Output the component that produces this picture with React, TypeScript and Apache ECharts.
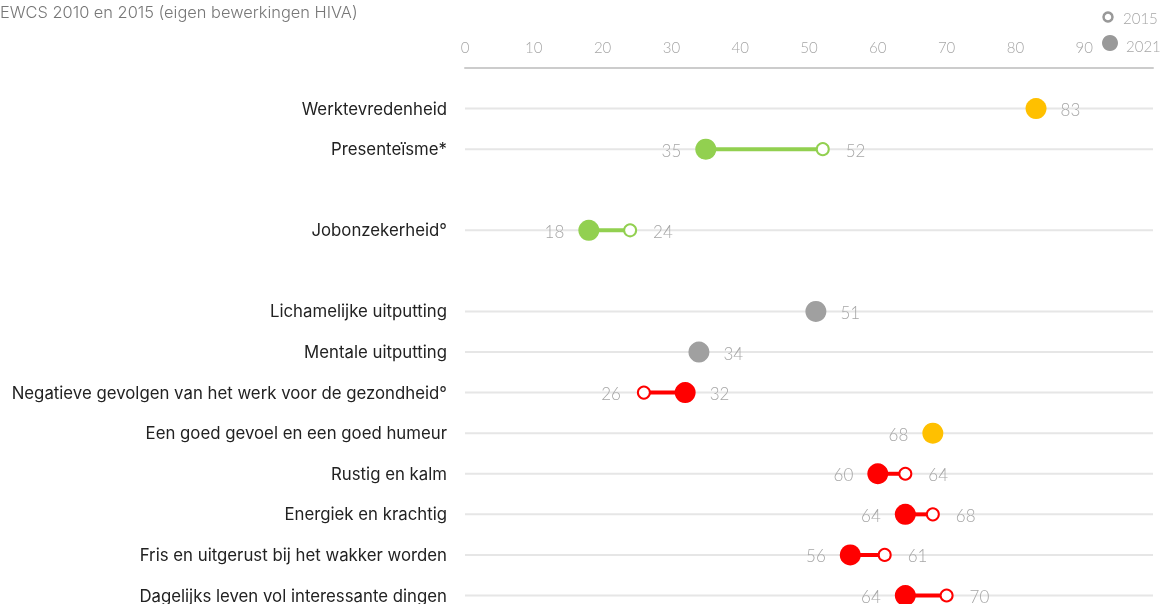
import React, { useEffect, useRef } from "react";
import * as echarts from "echarts";

const categories = [
  " ",
  "Werktevredenheid",
  "Presenteïsme*",
  "",
  "Jobonzekerheid°",
  "  ",
  "Lichamelijke uitputting",
  "Mentale uitputting",
  "Negatieve gevolgen van het werk voor de gezondheid°",
  "Een goed gevoel en een goed humeur",
  "Rustig en kalm",
  "Energiek en krachtig",
  "Fris en uitgerust bij het wakker worden",
  "Dagelijks leven vol interessante dingen",
];
const values2021: (number | null)[] = [null, 83, 35, null, 18, null, 51, 34, 32, 68, 60, 64, 56, 64];
const values2015: (number | null)[] = [null, null, 52, null, 24, null, null, null, 26, null, 64, 68, 61, 70];
const xTicks = [0, 10, 20, 30, 40, 50, 60, 70, 80, 90];

const YELLOW = "#FFC000";
const GREEN = "#92D050";
const GRAY = "#A0A0A0";
const RED = "#FF0000";
const rowColors = [null, YELLOW, GREEN, null, GREEN, null, GRAY, GRAY, RED, YELLOW, RED, RED, RED, RED];
const singleLabelLeft = [false, false, false, false, false, false, false, false, false, true, false, false, false, false];

const LABEL_FONT = "Lato, 'Open Sans', sans-serif";
const CAT_FONT = "Inter, Roboto, 'Noto Sans', sans-serif";

export default function App() {
  const ref = useRef<HTMLDivElement>(null);
  useEffect(() => {
    if (!ref.current) return;
    const chart = echarts.init(ref.current, undefined, { renderer: "svg" });

    const rows = categories.map((c, i) => i).filter((i) => categories[i].trim() !== "");

    const gridData = rows.map((i) => [0, i]);
    const segData = rows
      .filter((i) => values2021[i] != null && values2015[i] != null)
      .map((i) => [values2021[i], values2015[i], i]);

    const data2021 = rows
      .filter((i) => values2021[i] != null)
      .map((i) => {
        const v = values2021[i] as number;
        const o = values2015[i];
        let left: boolean;
        if (o != null) left = o > v;
        else left = singleLabelLeft[i];
        return {
          value: [v, i],
          itemStyle: { color: rowColors[i] },
          label: { position: left ? "left" : "right" },
        };
      });
    const data2015 = rows
      .filter((i) => values2015[i] != null)
      .map((i) => {
        const v = values2015[i] as number;
        const n = values2021[i] as number;
        return {
          value: [v, i],
          itemStyle: { color: "#ffffff", borderColor: rowColors[i] },
          label: { position: v > n ? "right" : "left" },
        };
      });

    const labelStyle = {
      show: true,
      formatter: (p: any) => String(p.value[0]),
      color: "#a6a6a6",
      fontSize: 17,
      fontWeight: 300,
      fontFamily: LABEL_FONT,
      offset: [0, 1],
    };

    chart.setOption({
      animation: false,
      grid: { left: 465, right: 9, top: 68, bottom: 8, containLabel: false },
      xAxis: {
        type: "value",
        position: "top",
        min: 0,
        max: 100,
        interval: 10,
        axisLine: { show: true, lineStyle: { color: "#cccccc", width: 2 } },
        axisTick: { show: false },
        splitLine: { show: false },
        axisLabel: {
          margin: 14,
          color: "#a6a6a6",
          fontSize: 15,
          fontWeight: 300,
          fontFamily: LABEL_FONT,
          formatter: (v: number) => (xTicks.includes(v) ? String(v) : ""),
        },
      },
      yAxis: {
        type: "category",
        inverse: true,
        boundaryGap: false,
        data: categories,
        axisLine: { show: false },
        axisTick: { show: false },
        splitLine: { show: false },
        axisLabel: {
          interval: 0,
          margin: 18,
          color: "#222222",
          fontSize: 16.8,
          fontFamily: CAT_FONT,
        },
      },
      graphic: [
        {
          type: "text",
          left: 0,
          top: 4,
          style: {
            text: "EWCS 2010 en 2015 (eigen bewerkingen HIVA)",
            fill: "#777777",
            fontSize: 16.4,
            fontWeight: 300,
            fontFamily: CAT_FONT,
          },
        },
        {
          type: "circle",
          shape: { cx: 1108, cy: 17, r: 4.5 },
          style: { fill: "#ffffff", stroke: "#999999", lineWidth: 2.5 },
        },
        {
          type: "text",
          x: 1123,
          y: 18,
          style: {
            text: "2015",
            fill: "#a6a6a6",
            fontSize: 15,
            fontWeight: 300,
            fontFamily: LABEL_FONT,
            verticalAlign: "middle",
          },
        },
        {
          type: "circle",
          shape: { cx: 1110, cy: 43, r: 8 },
          style: { fill: "#999999" },
        },
        {
          type: "text",
          x: 1126,
          y: 46,
          style: {
            text: "2021",
            fill: "#a6a6a6",
            fontSize: 15,
            fontWeight: 300,
            fontFamily: LABEL_FONT,
            verticalAlign: "middle",
          },
        },
      ],
      series: [
        {
          type: "custom",
          name: "grid",
          silent: true,
          z: 1,
          data: gridData,
          renderItem: (params: any, api: any) => {
            const y = api.value(1);
            const p0 = api.coord([0, y]);
            const p1 = api.coord([100, y]);
            return {
              type: "line",
              shape: { x1: p0[0], y1: p0[1], x2: p1[0], y2: p1[1] },
              style: { stroke: "#e6e6e6", lineWidth: 2 },
            };
          },
        },
        {
          type: "custom",
          name: "seg",
          silent: true,
          z: 2,
          data: segData,
          encode: { x: [0, 1], y: 2 },
          renderItem: (params: any, api: any) => {
            const y = api.value(2);
            const p0 = api.coord([api.value(0), y]);
            const p1 = api.coord([api.value(1), y]);
            return {
              type: "line",
              shape: { x1: p0[0], y1: p0[1], x2: p1[0], y2: p1[1] },
              style: { stroke: rowColors[y] as string, lineWidth: 4 },
            };
          },
        },
        {
          type: "scatter",
          name: "2015",
          z: 3,
          symbol: "circle",
          symbolSize: 12,
          itemStyle: { borderWidth: 2, opacity: 1 },
          label: { ...labelStyle, distance: 16 },
          data: data2015,
        },
        {
          type: "scatter",
          name: "2021",
          z: 4,
          symbol: "circle",
          symbolSize: 21,
          itemStyle: { opacity: 1 },
          label: { ...labelStyle, distance: 14 },
          data: data2021,
        },
      ],
    });
    return () => chart.dispose();
  }, []);
  return (
    <div
      ref={ref}
      style={{ position: "fixed", left: 0, top: 0, width: 1162, height: 604 }}
    />
  );
}
